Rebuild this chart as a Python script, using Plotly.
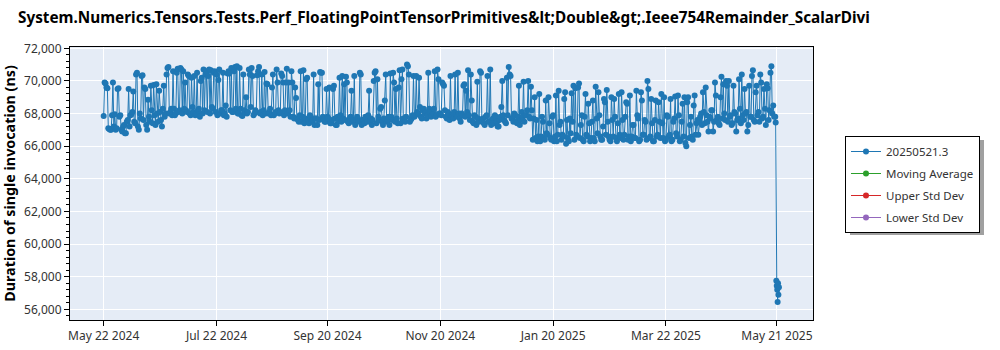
import pandas as pd
import plotly.graph_objects as go

# Benchmark results (ns): two runs per day starting 2024-05-22
start_date = "2024-05-22"
first_run_values = [
    # May 22 - Jun 24 2024
    67850, 69850, 69550, 67050, 67000, 69900, 67950, 67100, 69550, 67900,
    66900, 67300, 66800, 67600, 67200, 67950, 69350, 67400, 70500, 67000,
    67700, 70350, 69600, 67300, 68850, 67500, 68200, 69750, 67300, 68000,
    69400, 67600, 68300, 67800,
    # Jun 25 - Sep 1 2024
    70400, 70850, 68100, 67900, 68300, 68000, 70750, 68200, 70700, 70600,
    69900, 68100, 70300, 67900, 68400, 70300, 68000, 68200, 67800, 70200,
    70700, 70400, 68100, 70700, 70650, 68300, 70600, 70400, 70050, 68000,
    68200, 67900, 68500, 70450, 70450, 70800, 68100, 70850, 70900, 68000,
    68300, 67850, 68200, 69000, 68100, 70400, 70800, 67900, 68200, 70350,
    70850, 68100, 67900, 70550, 69850, 68000, 68300, 69600, 67900, 68100,
    69900, 68000, 70450, 69900, 68200, 70750, 69900, 67800, 69900,
    # Sep 2 - Nov 5 2024
    67700, 68950, 67600, 67900, 67500, 70650, 67700, 70200, 67400, 67800,
    67600, 67300, 67700, 69800, 70550, 70500, 67600, 67500, 67800, 69600,
    67400, 69500, 67700, 67300, 67600, 67900, 70300, 69800, 70250, 67500,
    67700, 69400, 67600, 67300, 67800, 67500, 70400, 67600, 67400, 67700,
    67900, 67500, 67300, 70000, 70600, 70100, 67600, 68400, 67300, 68800,
    67500, 67800, 70450, 67600, 69900, 69500, 67400, 70650, 70100, 67700,
    67500, 71000, 70400, 67600, 67900,
    # Nov 6 - Dec 5 2024
    67800, 70300, 68000, 68400, 67700, 68300, 68100, 67900, 68300, 67800,
    68000, 70600, 67900, 70100, 68000, 69900, 69700, 67800, 68100, 67600,
    67900, 67700, 70400, 67800, 68000, 67500, 67900, 69800, 69400, 70650,
    # Dec 6 2024 - Jan 8 2025
    67600, 68800, 67400, 67800, 69950, 67500, 70500, 67700, 67300, 67900,
    67500, 70700, 67600, 67400, 67800, 67200, 67600, 68400, 67900, 67500,
    70200, 70850, 70300, 67700, 68000, 67500, 67800, 67300, 68100, 69950,
    67900, 68200, 67800, 69650,
    # Jan 9 - Apr 8 2025
    66400, 69000, 67600, 66600, 66300, 67800, 66500, 68800, 66700, 67400,
    66400, 67900, 66600, 66300, 69400, 67500, 66700, 68900, 66150, 66500,
    67700, 69250, 69700, 69550, 66600, 69850, 67300, 66400, 67800, 66700,
    68600, 66300, 67500, 66500, 69650, 66800, 67900, 66400, 67200, 68700,
    69450, 66600, 66300, 67600, 68900, 66500, 67400, 66700, 69300, 66400,
    67800, 68600, 66600, 66300, 67300, 66500, 69400, 67700, 66400, 68800,
    66700, 67500, 70000, 66500, 68900, 66300, 67600, 66600, 68700, 66500,
    67400, 69000, 66400, 67800, 66700, 66300, 67500, 69050, 66600, 67900,
    66400, 68600, 69000, 66000, 69000, 67300, 66600, 68500, 66700, 67600,
    # Apr 9 - May 19 2025
    67500, 68000, 69300, 67400, 67900, 66900, 67700, 68200, 67500, 69100,
    67800, 67300, 70250, 69800, 67600, 69700, 70000, 67900, 67400, 68100,
    66900, 67700, 68300, 70400, 67600, 68000, 66900, 69700, 67800, 70650,
    67500, 69700, 68100, 70400, 67700, 69500, 67300, 69550, 68200, 70900,
    68500,
]

second_run_values = [
    # May 22 - Jun 24 2024
    69900, 69600, 67100, 67000, 67900, 67200, 67000, 69500, 67800, 67000,
    67200, 66800, 67500, 69500, 67900, 68100, 67500, 70400, 67200, 68000,
    70300, 67600, 69500, 67000, 67800, 69700, 67400, 67900, 69800, 67500,
    68100, 67200, 69700, 68000,
    # Jun 25 - Sep 1 2024
    70800, 68000, 68300, 70600, 67900, 70500, 68100, 70800, 68000, 68300,
    68200, 70400, 68000, 70200, 68100, 67900, 70500, 68300, 70000, 68000,
    68200, 70600, 70300, 68000, 68400, 70500, 68100, 67900, 70700, 68200,
    70500, 68000, 67800, 70600, 68200, 68100, 70600, 68300, 68000, 70800,
    67900, 70400, 68100, 68000, 70700, 68400, 70300, 68000, 68100, 70600,
    68000, 70400, 68200, 68000, 69800, 68100, 67900, 70400, 68000, 70700,
    68200, 68100, 70300, 67900, 69900, 68000, 68200, 70600, 67800,
    # Sep 2 - Nov 5 2024
    69600, 67700, 67500, 70600, 67800, 67400, 70100, 67600, 67900, 67500,
    70400, 67700, 67300, 67600, 70500, 67800, 67500, 69500, 67700, 67400,
    67600, 69700, 67300, 67800, 70200, 67500, 67700, 67600, 69900, 67400,
    67800, 67500, 70300, 67600, 67700, 70500, 67300, 67600, 67800, 67500,
    69400, 67700, 67600, 70500, 67400, 67800, 68300, 67500, 67700, 70400,
    67600, 67300, 67800, 70500, 67500, 67700, 69600, 67400, 70700, 67600,
    67800, 70900, 67500, 67700, 70300,
    # Nov 6 - Dec 5 2024
    67900, 68100, 70200, 67800, 68200, 68000, 67700, 70500, 68100, 67900,
    68300, 67800, 70700, 68000, 67900, 69800, 68200, 67700, 68000, 70300,
    67800, 68100, 67900, 70500, 67700, 68000, 69700, 67800, 68100, 67900,
    # Dec 6 2024 - Jan 8 2025
    70400, 67500, 67900, 67300, 67700, 70600, 67600, 67400, 67800, 70300,
    67500, 67300, 67700, 67900, 67500, 67200, 67800, 70000, 67600, 67400,
    67900, 70400, 67700, 67500, 67900, 67400, 69700, 67600, 67800, 67500,
    67900, 70000, 67700, 68200,
    # Jan 9 - Apr 8 2025
    67700, 66500, 66300, 69200, 66600, 67500, 66400, 66800, 69000, 66500,
    67800, 66300, 69100, 66700, 67300, 66400, 66600, 69300, 67600, 66300,
    66800, 67500, 66400, 66700, 69600, 66500, 67900, 66300, 69200, 66600,
    67400, 66500, 68800, 66300, 67700, 69300, 66600, 66400, 68900, 66700,
    67500, 66400, 69000, 66600, 67800, 66300, 69200, 66500, 67600, 66700,
    68700, 66400, 69100, 66600, 67300, 66500, 67900, 66300, 69300, 66700,
    67600, 66400, 69500, 66600, 67400, 66300, 68800, 66700, 67500, 69200,
    66500, 66300, 67900, 66600, 68900, 66400, 67700, 66800, 69100, 66300,
    67500, 66600, 66200, 68700, 66500, 67800, 66400, 69100, 67400, 66700,
    # Apr 9 - May 19 2025
    67800, 67300, 68100, 69600, 67500, 67800, 68200, 66900, 69900, 67600,
    67400, 69000, 67700, 68000, 70000, 67500, 67800, 67300, 69700, 68000,
    67600, 70100, 67400, 67900, 69500, 68100, 67300, 67800, 70300, 67600,
    69300, 67900, 67500, 69900, 67800, 68300, 69800, 67600, 70500, 68000,
    67800,
]

# Latest runs
latest_times = [
    "2025-05-20 02:00", "2025-05-20 08:00", "2025-05-20 16:00",
    "2025-05-20 22:00", "2025-05-21 04:00", "2025-05-21 09:00",
    "2025-05-21 14:00", "2025-05-21 19:00", "2025-05-22 02:00",
]
latest_values = [67800, 67450, 57750, 57450, 57200, 56450, 57600, 56900, 57350]

# Companion series (no points in this window)
moving_avg_x, moving_avg_y = [None], [None]
upper_std_x, upper_std_y = [None], [None]
lower_std_x, lower_std_y = [None], [None]

series_name = "20250521.3"
title_text = ("System.Numerics.Tensors.Tests.Perf_FloatingPointTensorPrimitives"
              "&amp;lt;Double&amp;gt;.Ieee754Remainder_ScalarDivi")
y_title = "Duration of single invocation (ns)"

tick_dates = ["2024-05-22", "2024-07-22", "2024-09-20", "2024-11-20",
              "2025-01-20", "2025-03-22", "2025-05-21"]

# Put all runs in time order
first_times = pd.date_range(start_date, periods=len(first_run_values), freq="D")
second_times = first_times + pd.Timedelta(hours=12)
runs = pd.concat([
    pd.DataFrame({"t": first_times, "v": first_run_values}),
    pd.DataFrame({"t": second_times, "v": second_run_values}),
    pd.DataFrame({"t": pd.to_datetime(latest_times), "v": latest_values}),
]).sort_values("t")

font_family = "Noto Sans, Open Sans, sans-serif"

fig = go.Figure()
fig.add_trace(go.Scatter(
    x=runs["t"], y=runs["v"], name=series_name, mode="lines+markers",
    legendgroup="a",
    line=dict(color="#1f77b4", width=1),
    marker=dict(color="#1f77b4", size=6),
))
for gx, gy, gname, gcolor, grp in [
    (moving_avg_x, moving_avg_y, "Moving Average", "#2ca02c", "b"),
    (upper_std_x, upper_std_y, "Upper Std Dev", "#d62728", "c"),
    (lower_std_x, lower_std_y, "Lower Std Dev", "#9467bd", "d"),
]:
    fig.add_trace(go.Scatter(x=gx, y=gy, name=gname, mode="lines+markers",
                             legendgroup=grp,
                             line=dict(color=gcolor, width=1),
                             marker=dict(color=gcolor, size=6)))

fig.update_layout(
    width=1000, height=350,
    margin=dict(l=70, r=187, t=47, b=30, autoexpand=False),
    paper_bgcolor="white", plot_bgcolor="#e5ecf6",
    font=dict(family=font_family, size=12, color="#333"),
    title=dict(text=title_text, x=0.018, xanchor="left", xref="container",
               y=1 - 18 / 350, yanchor="middle", yref="container",
               font=dict(family=font_family, size=15.3, color="black", weight="bold")),
    showlegend=True,
    legend=dict(x=(845 - 70) / 743, xanchor="left", y=(320 - 136) / 273, yanchor="top",
                bgcolor="white", bordercolor="black", borderwidth=1,
                font=dict(size=11.5, color="#333"), tracegroupgap=3,
                itemwidth=30),
    xaxis=dict(
        type="date", range=["2024-05-03 19:00", "2025-06-09 12:00"],
        tickvals=tick_dates, tickformat="%b %d %Y", automargin=False,
        showgrid=True, gridcolor="white", gridwidth=1,
        showline=True, linecolor="black", linewidth=1, mirror=True,
        ticks="outside", ticklen=5, tickcolor="black",
        zeroline=False,
    ),
    yaxis=dict(
        range=[55345, 72080], dtick=2000, tick0=0, tickformat=",",
        automargin=False,
        showgrid=True, gridcolor="white", gridwidth=1,
        showline=True, linecolor="black", linewidth=1, mirror=True,
        ticks="outside", ticklen=5, tickcolor="black",
        minor=dict(dtick=400, ticks="outside", ticklen=3, tickcolor="black", showgrid=False),
        zeroline=False,
        title=dict(text=y_title, standoff=10,
                   font=dict(family=font_family, size=14.3, color="black", weight="bold")),
    ),
)

# Drop shadow behind the legend box
fig.add_shape(type="rect", xref="paper", yref="paper",
              x0=(850 - 70) / 743, x1=(984 - 70) / 743,
              y0=(320 - 235) / 273, y1=(320 - 140) / 273,
              fillcolor="#a0a0a0", line=dict(width=0), layer="below")

fig.write_html("out.html")
